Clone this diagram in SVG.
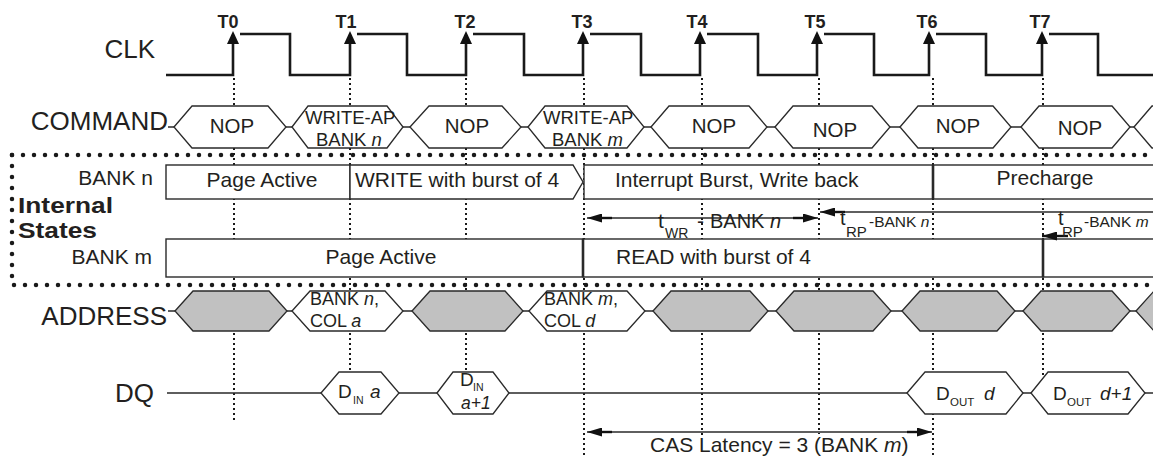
<svg xmlns="http://www.w3.org/2000/svg" width="1153" height="460" viewBox="0 0 1153 460">
<style>
text{font-family:"Liberation Sans",Arial,Helvetica,sans-serif;fill:#231f20}
.clk{fill:none;stroke:#1a1a1a;stroke-width:2.6;stroke-linejoin:miter}
.hx{fill:#fff;stroke:#2a2a2a;stroke-width:1.3}
.hg{fill:#c1c1c1;stroke:#2a2a2a;stroke-width:1.3}
.bx{fill:#fff;stroke:#2a2a2a;stroke-width:1.4}
.ln{fill:none;stroke:#2a2a2a;stroke-width:1.3}
.vd{stroke:#1a1a1a;stroke-width:2;stroke-dasharray:2 3}
.bd{fill:none;stroke:#1a1a1a;stroke-width:4.5;stroke-linecap:round;stroke-dasharray:0 11}
.dv{stroke:#2a2a2a;stroke-width:2.6}
.lbl{font-size:26px}
.t{font-size:18px;font-weight:bold;text-anchor:middle}
.cmd{font-size:20.5px;text-anchor:middle}
.cmd2{font-size:18.5px}
.st{font-size:21px}
.ad{font-size:18px}
.d{font-size:19px}
.sub{font-size:10.5px}
.it{font-style:italic}
.ah{fill:#111}
.is{font-size:22px;font-weight:bold}
</style>
<defs>
<marker id="arr" viewBox="0 0 15 9" refX="15" refY="4.5" markerWidth="15" markerHeight="9" markerUnits="userSpaceOnUse" orient="auto-start-reverse">
<path d="M0 0 L15 4.5 L0 9 Z" fill="#111"/>
</marker>
</defs>

<!-- vertical dotted time guides -->
<g id="guides">
<line class="vd" x1="234" y1="78" x2="234" y2="423"/>
<line class="vd" x1="350" y1="78" x2="350" y2="385"/>
<line class="vd" x1="466" y1="78" x2="466" y2="385"/>
<line class="vd" x1="584" y1="78" x2="584" y2="457"/>
<line class="vd" x1="702" y1="78" x2="702" y2="436"/>
<line class="vd" x1="819" y1="78" x2="819" y2="434"/>
<line class="vd" x1="933" y1="78" x2="933" y2="457"/>
<line class="vd" x1="1043" y1="78" x2="1043" y2="385"/>
</g>

<!-- internal states dotted frame -->
<g id="internal-frame">
<path class="bd" d="M12 155 H1153"/>
<path class="bd" d="M12 155 V285 H1153"/>
</g>

<!-- signal labels -->
<g id="labels">
<text class="lbl" x="155" y="58" text-anchor="end">CLK</text>
<text class="lbl" x="168" y="130" text-anchor="end">COMMAND</text>
<text x="153" y="185" text-anchor="end" style="font-size:21px">BANK n</text>
<text class="is" x="18" y="213" textLength="95" lengthAdjust="spacingAndGlyphs">Internal</text>
<text class="is" x="18" y="238" textLength="79" lengthAdjust="spacingAndGlyphs">States</text>
<text x="152" y="264" text-anchor="end" style="font-size:21px">BANK m</text>
<text class="lbl" x="167" y="325" text-anchor="end">ADDRESS</text>
<text class="lbl" x="154" y="402" text-anchor="end">DQ</text>
</g>

<!-- clock -->
<g id="clk">
<path class="clk" d="M166 75 H233 V44 M240 34 H290 V75 H350 V44 M357 34 H407 V75 H466 V44 M473 34 H524 V75 H583 V44 M590 34 H641 V75 H700 V44 M707 34 H758 V75 H817 V44 M824 34 H874 V75 H929 V44 M936 34 H986 V75 H1042 V44 M1049 34 H1098 V75 H1153"/>
<polygon class="ah" points="227,44 239,44 233,31"/>
<polygon class="ah" points="344,44 356,44 350,31"/>
<polygon class="ah" points="460,44 472,44 466,31"/>
<polygon class="ah" points="577,44 589,44 583,31"/>
<polygon class="ah" points="694,44 706,44 700,31"/>
<polygon class="ah" points="811,44 823,44 817,31"/>
<polygon class="ah" points="923,44 935,44 929,31"/>
<polygon class="ah" points="1036,44 1048,44 1042,31"/>
<text class="t" x="228" y="28">T0</text>
<text class="t" x="346" y="28">T1</text>
<text class="t" x="465" y="28">T2</text>
<text class="t" x="582" y="28">T3</text>
<text class="t" x="697" y="28">T4</text>
<text class="t" x="815" y="28">T5</text>
<text class="t" x="927" y="28">T6</text>
<text class="t" x="1040" y="28">T7</text>
</g>

<!-- connectors (bus joins, arrows) -->
<g id="connectors">
<path class="ln" d="M168 127 H174 M286 127 H292 M403 127 H410 M521 127 H528 M644 127 H651 M767 127 H775 M890 127 H900 M1011 127 H1021 M1130 127 H1134"/>
<path class="ln" d="M168 311 H175 M287 311 H292 M403 311 H412 M523 311 H529 M645 311 H653 M768 311 H776 M891 311 H902 M1015 311 H1023 M1130 311 H1136"/>
<path class="ln" d="M167 393 H321 M399 393 H437 M509 393 H907 M1023 393 H1031 M1145 393 H1153"/>
</g>

<!-- COMMAND row -->
<g id="cmd-t0"><path class="hx" d="M174 127 L192 106 L268 106 L286 127 L268 148 L192 148 Z"/><text class="cmd" x="232" y="133">NOP</text></g>
<g id="cmd-t1"><path class="hx" d="M292 127 L308 106 L387 106 L403 127 L387 148 L308 148 Z"/><text class="cmd2" x="305" y="124">WRITE-AP</text><text class="cmd2" x="316" y="146">BANK <tspan class="it">n</tspan></text></g>
<g id="cmd-t2"><path class="hx" d="M410 127 L429 106 L502 106 L521 127 L502 148 L429 148 Z"/><text class="cmd" x="467" y="133">NOP</text></g>
<g id="cmd-t3"><path class="hx" d="M528 127 L545 106 L627 106 L644 127 L627 148 L545 148 Z"/><text class="cmd2" x="543" y="124">WRITE-AP</text><text class="cmd2" x="552" y="146">BANK <tspan class="it">m</tspan></text></g>
<g id="cmd-t4"><path class="hx" d="M651 127 L669 106 L749 106 L767 127 L749 148 L669 148 Z"/><text class="cmd" x="714" y="133">NOP</text></g>
<g id="cmd-t5"><path class="hx" d="M775 127 L793 106 L872 106 L890 127 L872 148 L793 148 Z"/><text class="cmd" x="835" y="137">NOP</text></g>
<g id="cmd-t6"><path class="hx" d="M900 127 L918 106 L993 106 L1011 127 L993 148 L918 148 Z"/><text class="cmd" x="958" y="133">NOP</text></g>
<g id="cmd-t7"><path class="hx" d="M1021 127 L1039 106 L1112 106 L1130 127 L1112 148 L1039 148 Z"/><text class="cmd" x="1080" y="135">NOP</text></g>
<g id="cmd-t8"><path class="hx" d="M1134 127 L1152 106 L1240 106 L1258 127 L1240 148 L1152 148 Z"/></g>

<!-- BANK n state row -->
<g id="bankn-page"><rect class="bx" x="166" y="165" width="184" height="34"/><text class="st" x="262" y="187" text-anchor="middle">Page Active</text></g>
<g id="bankn-write"><path class="bx" d="M350 165 H573 L583 182 L573 199 H350 Z"/><text class="st" x="355" y="187">WRITE with burst of 4</text></g>
<g id="bankn-interrupt"><rect class="bx" x="584" y="165" width="349" height="34"/><text class="st" x="615" y="187">Interrupt Burst, Write back</text></g>
<g id="bankn-precharge"><rect class="bx" x="933" y="165" width="240" height="34"/><line class="dv" x1="933" y1="165" x2="933" y2="199"/><text class="st" x="1045" y="185" text-anchor="middle">Precharge</text></g>

<!-- BANK m state row -->
<g id="bankm-page"><rect class="bx" x="166" y="239" width="417" height="38"/><text class="st" x="381" y="264" text-anchor="middle">Page Active</text></g>
<g id="bankm-read"><rect class="bx" x="583" y="239" width="460" height="38"/><line class="dv" x1="583" y1="239" x2="583" y2="277"/><text class="st" x="616" y="264">READ with burst of 4</text></g>
<g id="bankm-next"><rect class="bx" x="1043" y="239" width="130" height="38"/><line class="dv" x1="1043" y1="239" x2="1043" y2="277"/></g>

<!-- timing arrows -->
<g id="twr">
<line class="ln" x1="587" y1="218" x2="818" y2="218" marker-start="url(#arr)" marker-end="url(#arr)"/>
<line x1="595" y1="218" x2="612" y2="218" stroke="#111" stroke-width="2.4"/>
<line x1="793" y1="218" x2="810" y2="218" stroke="#111" stroke-width="2.4"/>
<text x="658" y="228" style="font-size:21px">t</text>
<text x="665" y="238" style="font-size:14px">WR</text>
<text x="697" y="228" style="font-size:21px">-</text>
<text x="710" y="228" style="font-size:20px">BANK <tspan class="it">n</tspan></text>
</g>
<g id="trp-n">
<line class="ln" x1="820" y1="212" x2="1153" y2="212" marker-start="url(#arr)"/>
<line x1="828" y1="212" x2="845" y2="212" stroke="#111" stroke-width="2.4"/>
<text x="840" y="225" style="font-size:20px">t</text>
<text x="846" y="237" style="font-size:15px">RP</text>
<text x="869" y="227" style="font-size:15.5px">-BANK <tspan class="it">n</tspan></text>
</g>
<g id="trp-m">
<line x1="1042" y1="236" x2="1068" y2="236" stroke="#111" stroke-width="2.4" marker-start="url(#arr)"/>
<text x="1058" y="225" style="font-size:20px">t</text>
<text x="1062" y="237" style="font-size:15px">RP</text>
<text x="1084" y="227" style="font-size:15.5px">-BANK <tspan class="it">m</tspan></text>
</g>

<!-- ADDRESS row -->
<g id="addr-t0"><path class="hg" d="M175 311 L193 291 L269 291 L287 311 L269 331 L193 331 Z"/></g>
<g id="addr-t1"><path class="hx" d="M292 311 L310 291 L385 291 L403 311 L385 331 L310 331 Z"/><text class="ad" x="310" y="305">BANK <tspan class="it">n</tspan>,</text><text class="ad" x="310" y="327">COL <tspan class="it">a</tspan></text></g>
<g id="addr-t2"><path class="hg" d="M412 311 L430 291 L505 291 L523 311 L505 331 L430 331 Z"/></g>
<g id="addr-t3"><path class="hx" d="M529 311 L547 291 L627 291 L645 311 L627 331 L547 331 Z"/><text class="ad" x="544" y="305">BANK <tspan class="it">m</tspan>,</text><text class="ad" x="544" y="327">COL <tspan class="it">d</tspan></text></g>
<g id="addr-t4"><path class="hg" d="M653 311 L671 291 L750 291 L768 311 L750 331 L671 331 Z"/></g>
<g id="addr-t5"><path class="hg" d="M776 311 L794 291 L873 291 L891 311 L873 331 L794 331 Z"/></g>
<g id="addr-t6"><path class="hg" d="M902 311 L920 291 L997 291 L1015 311 L997 331 L920 331 Z"/></g>
<g id="addr-t7"><path class="hg" d="M1023 311 L1041 291 L1112 291 L1130 311 L1112 331 L1041 331 Z"/></g>
<g id="addr-t8"><path class="hg" d="M1136 311 L1154 291 L1240 291 L1258 311 L1240 331 L1154 331 Z"/></g>

<!-- DQ row -->
<g id="dq-din-a"><path class="hx" d="M321 393 L339 372 L381 372 L399 393 L381 414 L339 414 Z"/><text class="d" x="338" y="398">D</text><text class="sub" x="353" y="404">IN</text><text class="d it" x="370" y="398">a</text></g>
<g id="dq-din-a1"><path class="hx" d="M437 393 L453 372 L493 372 L509 393 L493 414 L453 414 Z"/><text class="d" x="460" y="386">D</text><text class="sub" x="473" y="390.5">IN</text><text class="it" x="461" y="409" style="font-size:17.5px">a+1</text></g>
<g id="dq-dout-d"><path class="hx" d="M907 393 L925 372 L1006 372 L1023 393 L1006 414 L925 414 Z"/><text class="d" x="936" y="400">D</text><text class="sub" x="950" y="406" style="font-size:11.5px">OUT</text><text class="d it" x="984" y="400">d</text></g>
<g id="dq-dout-d1"><path class="hx" d="M1031 393 L1048 372 L1128 372 L1145 393 L1128 414 L1048 414 Z"/><text class="d" x="1053" y="400">D</text><text class="sub" x="1067" y="406" style="font-size:11.5px">OUT</text><text class="d it" x="1100" y="400">d+1</text></g>

<!-- CAS latency -->
<g id="cas">
<line class="ln" x1="587" y1="432" x2="932" y2="432" marker-start="url(#arr)" marker-end="url(#arr)"/>
<line x1="595" y1="432" x2="612" y2="432" stroke="#111" stroke-width="2.4"/>
<line x1="907" y1="432" x2="924" y2="432" stroke="#111" stroke-width="2.4"/>
<text x="650" y="452" style="font-size:21px">CAS Latency = 3 (BANK <tspan class="it">m</tspan>)</text>
</g>
</svg>
